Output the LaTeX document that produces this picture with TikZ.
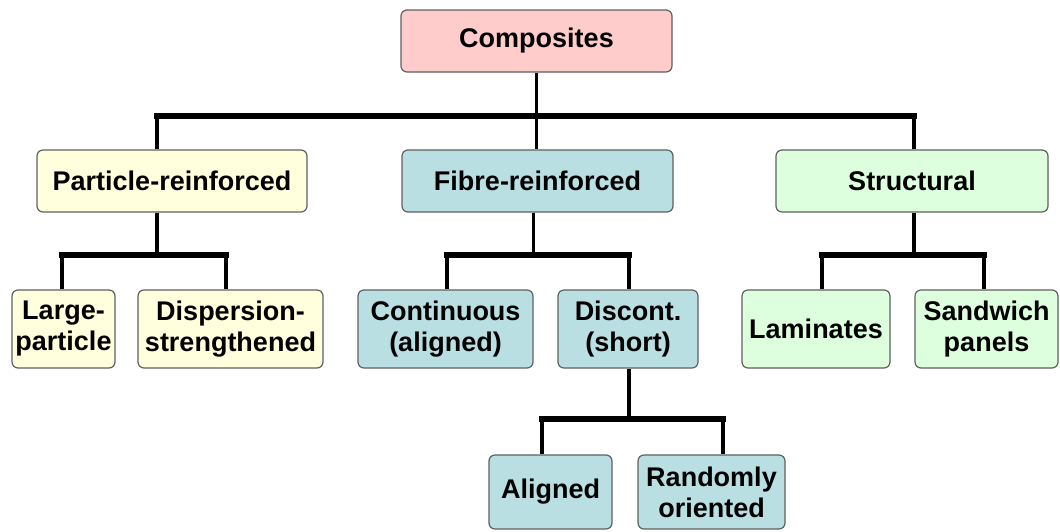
\documentclass[tikz,border=0pt]{standalone}
\usepackage{fontspec}
\setmainfont{Liberation Sans}
\usetikzlibrary{calc}
\definecolor{pinkf}{RGB}{255,204,204}
\definecolor{yellowf}{RGB}{255,255,221}
\definecolor{bluef}{RGB}{185,223,227}
\definecolor{greenf}{RGB}{221,255,221}
\definecolor{edgec}{RGB}{96,96,96}
\begin{document}
\begin{tikzpicture}[x=1pt,y=-1pt,
  box/.style={draw=edgec, line width=1.2pt, rounded corners=6pt, inner sep=0pt, align=center,
    font=\fontsize{27}{31}\selectfont\bfseries},
  thinline/.style={line width=3pt, black},
  conn/.style={line width=4.5pt, black},
  bar/.style={line width=5.5pt, black, line cap=rect}]
\useasboundingbox (0,0) rectangle (1060,531);
% nodes
\node[box, fill=pinkf, minimum width=271, minimum height=62] (comp) at (536.5,41) {Composites};
\node[box, fill=yellowf, minimum width=270, minimum height=62] (part) at (172,181) {Particle-reinforced};
\node[box, fill=bluef, minimum width=271, minimum height=62] (fib) at (537.5,181) {Fibre-reinforced};
\node[box, fill=greenf, minimum width=272, minimum height=62] (str) at (912,181) {Structural};
\node[box, fill=yellowf, minimum width=103, minimum height=78] (large) at (63.5,329) {Large-\\particle};
\node[box, fill=yellowf, minimum width=185, minimum height=78] (disp) at (230.5,329) {Dispersion-\\strengthened};
\node[box, fill=bluef, minimum width=175, minimum height=78] (cont) at (445.5,329) {Continuous\\(aligned)};
\node[box, fill=bluef, minimum width=140, minimum height=78] (disc) at (628,329) {Discont.\\(short)};
\node[box, fill=greenf, minimum width=148, minimum height=78] (lam) at (816,329) {Laminates};
\node[box, fill=greenf, minimum width=143, minimum height=78] (sand) at (986.5,329) {Sandwich\\panels};
\node[box, fill=bluef, minimum width=123, minimum height=74] (alig) at (550.5,492) {Aligned};
\node[box, fill=bluef, minimum width=147, minimum height=74] (rand) at (711.5,492) {Randomly\\oriented};
% junction coordinates
\coordinate (b0l) at (157,116);
\coordinate (b0r) at (914,116);
\coordinate (b1l) at (62,255);
\coordinate (b1r) at (226,255);
\coordinate (b2l) at (447,255);
\coordinate (b2r) at (629,255);
\coordinate (b3l) at (822,255);
\coordinate (b3r) at (984,255);
\coordinate (b4l) at (542,419);
\coordinate (b4r) at (723,419);
\coordinate (fibs) at ($(fib.south)+(-4,0)$);
% level 0 -> 1
\draw[bar] (b0l) -- (b0r);
\draw[thinline] (comp.south) -- (comp.south |- fib.north);
\draw[conn] (b0l) -- (b0l |- part.north);
\draw[conn] (b0r) -- (b0r |- str.north);
% particle
\draw[conn] (part.south -| b0l) -- (b0l |- b1l);
\draw[bar] (b1l) -- (b1r);
\draw[conn] (b1l) -- (b1l |- large.north);
\draw[conn] (b1r) -- (b1r |- disp.north);
% fibre
\draw[thinline] (fibs) -- (fibs |- b2l);
\draw[bar] (b2l) -- (b2r);
\draw[conn] (b2l) -- (b2l |- cont.north);
\draw[conn] (b2r) -- (b2r |- disc.north);
% structural
\draw[conn] (str.south -| b0r) -- (b0r |- b3l);
\draw[bar] (b3l) -- (b3r);
\draw[conn] (b3l) -- (b3l |- lam.north);
\draw[conn] (b3r) -- (b3r |- sand.north);
% discontinuous
\draw[conn] (disc.south -| b2r) -- (b2r |- b4l);
\draw[bar] (b4l) -- (b4r);
\draw[conn] (b4l) -- (b4l |- alig.north);
\draw[conn] (b4r) -- (b4r |- rand.north);
\end{tikzpicture}
\end{document}
